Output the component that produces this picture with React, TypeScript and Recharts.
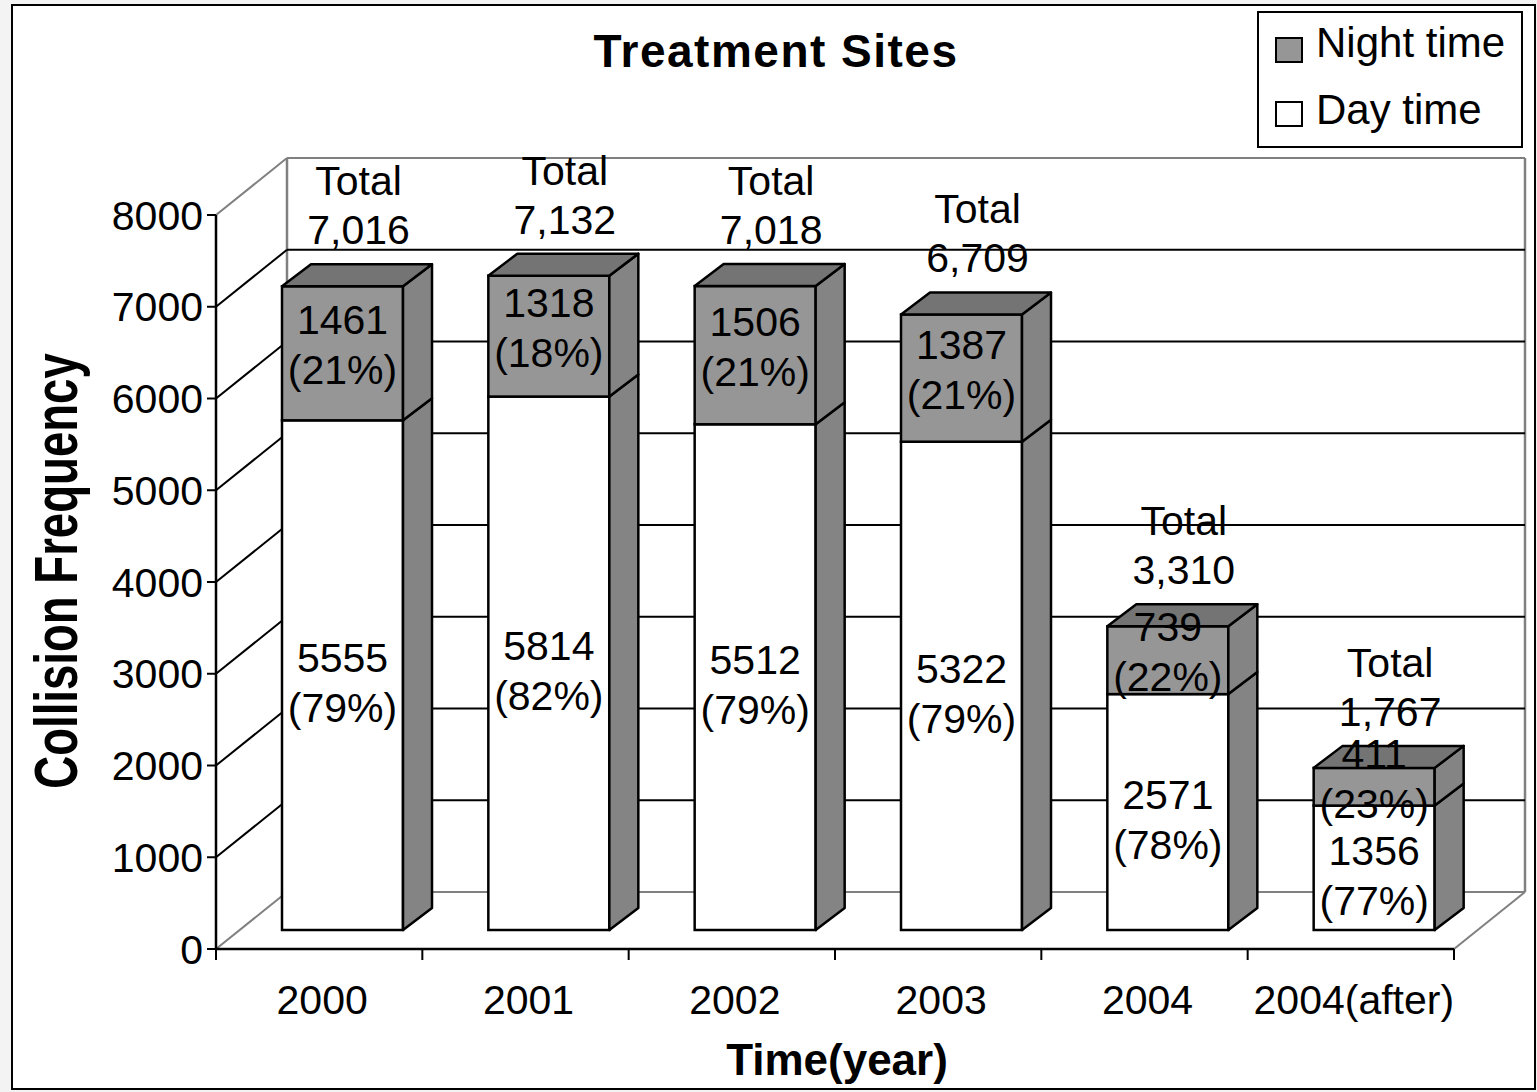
import React from 'react';
import { BarChart, Bar, XAxis, YAxis, CartesianGrid } from 'recharts';

// ---------- data ----------
const years = ['2000', '2001', '2002', '2003', '2004', '2004(after)'];
const dayTime = [5555, 5814, 5512, 5322, 2571, 1356];
const nightTime = [1461, 1318, 1506, 1387, 739, 411];
const dayPercent = ['79%', '82%', '79%', '79%', '78%', '77%'];
const nightPercent = ['21%', '18%', '21%', '21%', '22%', '23%'];
const totalLabels = ['7,016', '7,132', '7,018', '6,709', '3,310', '1,767'];
const yTicks = [0, 1000, 2000, 3000, 4000, 5000, 6000, 7000, 8000];
const seriesNames = ['Night time', 'Day time'];
const chartTitle = 'Treatment Sites';
const xTitle = 'Time(year)';
const yTitle = 'Collision Frequency';

const data = years.map((year, i) => ({ year, day: dayTime[i], night: nightTime[i] }));

// ---------- style ----------
const W = 1537;
const H = 1092;
const FONT = '"Liberation Sans", Arial, sans-serif';
const PLOT_LEFT = 216;
const PLOT_RIGHT = 1454;
const PLOT_TOP = 215;
const PLOT_BOTTOM = 949;
const Y_AXIS_W = 100;
const X_AXIS_H = 60;

const WALL_DX = 71;
const WALL_DY = 57;
const BAR_DX = 23;
const BAR_DY = 19;
const DEPTH_DX = 29;
const DEPTH_DY = 22;
const TOTAL_LIFT = 34;

const NIGHT_FRONT = '#969696';
const NIGHT_TOP = '#747474';
const SIDE = '#848484';
const DAY_FRONT = '#ffffff';
const EDGE_GRAY = '#808080';
const FS = 41;

const renderGridLine = (p: any) => {
  const { x1, y1, x2, index } = p;
  const hasBox = typeof p.y === 'number' && typeof p.height === 'number';
  const top = hasBox ? p.y : NaN;
  const bottom = hasBox ? p.y + p.height : NaN;
  const isTop = hasBox && Math.abs(y1 - top) < 1;
  const isBottom = hasBox && Math.abs(y1 - bottom) < 1;
  const stroke = isTop || isBottom ? EDGE_GRAY : '#000';
  const bx = x1 + WALL_DX;
  const by = y1 - WALL_DY;
  const bxr = x2 + WALL_DX;
  return (
    <g key={`grid-${index}`}>
      <line x1={x1} y1={y1} x2={bx} y2={by} stroke={stroke} strokeWidth={2} />
      <line x1={bx} y1={by} x2={bxr} y2={by} stroke={stroke} strokeWidth={2} />
      {isBottom && (
        <g>
          <line x1={x2} y1={y1} x2={bxr} y2={by} stroke={EDGE_GRAY} strokeWidth={2} />
          <line x1={bx} y1={top - WALL_DY} x2={bx} y2={by} stroke={EDGE_GRAY} strokeWidth={2.5} />
          <line x1={bxr} y1={top - WALL_DY} x2={bxr} y2={by} stroke={EDGE_GRAY} strokeWidth={2.5} />
        </g>
      )}
    </g>
  );
};

const textProps = {
  textAnchor: 'middle' as const,
  dominantBaseline: 'central' as const,
  fontSize: FS,
  fontFamily: FONT,
  fill: '#000',
};

const makeShape = (isTop: boolean, front: string, values: number[], pct: string[]) => (p: any) => {
  const { x, y, width, height, index } = p;
  if (x == null || y == null || !width || height == null) return <g />;
  const fx = x + BAR_DX;
  const fy = y - BAR_DY;
  const cx = fx + width / 2;
  const cy = fy + height / 2 + (isTop ? -8 : 8);
  const side = [
    [fx + width, fy],
    [fx + width + DEPTH_DX, fy - DEPTH_DY],
    [fx + width + DEPTH_DX, fy + height - DEPTH_DY],
    [fx + width, fy + height],
  ]
    .map((pt) => pt.join(','))
    .join(' ');
  const topFace = [
    [fx, fy],
    [fx + DEPTH_DX, fy - DEPTH_DY],
    [fx + width + DEPTH_DX, fy - DEPTH_DY],
    [fx + width, fy],
  ]
    .map((pt) => pt.join(','))
    .join(' ');
  const backTop = fy - DEPTH_DY;
  const tx = cx + 16;
  return (
    <g>
      {isTop && (
        <g>
          <text {...textProps} x={tx} y={backTop - TOTAL_LIFT - 49}>Total</text>
          <text {...textProps} x={tx} y={backTop - TOTAL_LIFT}>{totalLabels[index]}</text>
        </g>
      )}
      <rect x={fx} y={fy} width={width} height={height} fill={front} stroke="#000" strokeWidth={2.5} />
      <polygon points={side} fill={SIDE} stroke="#000" strokeWidth={2.5} strokeLinejoin="round" />
      {isTop && <polygon points={topFace} fill={NIGHT_TOP} stroke="#000" strokeWidth={2.5} strokeLinejoin="round" />}
      <text {...textProps} x={cx} y={cy - 25}>{values[index]}</text>
      <text {...textProps} x={cx} y={cy + 25}>({pct[index]})</text>
    </g>
  );
};

const dayShape = makeShape(false, DAY_FRONT, dayTime, dayPercent);
const nightShape = makeShape(true, NIGHT_FRONT, nightTime, nightPercent);

const XTick = (p: any) => {
  const { x, y, payload } = p;
  const idx = typeof p.index === 'number' ? p.index : payload?.index;
  const half =
    payload && typeof payload.offset === 'number' && payload.offset > 0
      ? payload.offset
      : (PLOT_RIGHT - PLOT_LEFT) / years.length / 2;
  return (
    <g>
      <line x1={x - half} y1={y} x2={x - half} y2={y + 11} stroke="#000" strokeWidth={2} />
      {idx === years.length - 1 && (
        <line x1={x + half} y1={y} x2={x + half} y2={y + 11} stroke="#000" strokeWidth={2} />
      )}
      <text x={x + 3} y={y + 65} textAnchor="middle" fontSize={FS} fontFamily={FONT} fill="#000">
        {payload?.value}
      </text>
    </g>
  );
};

export default function App() {
  return (
    <div style={{ position: 'absolute', left: 0, top: 0, width: W, height: H, background: '#f3f3f3', fontFamily: FONT, overflow: 'hidden' }}>
      <div
        style={{
          position: 'absolute',
          left: 11,
          top: 4,
          width: 1525,
          height: 1086,
          border: '2px solid #000',
          background: '#fff',
          boxSizing: 'border-box',
        }}
      />
      <div style={{ position: 'absolute', left: 0, top: 0 }}>
        <BarChart
          width={W}
          height={H}
          data={data}
          margin={{ top: PLOT_TOP, right: W - PLOT_RIGHT, bottom: H - PLOT_BOTTOM - X_AXIS_H, left: PLOT_LEFT - Y_AXIS_W }}
          barSize={121}
          barCategoryGap={0}
        >
          <CartesianGrid horizontal={renderGridLine} vertical={false} />
          <XAxis
            dataKey="year"
            height={X_AXIS_H}
            interval={0}
            tickLine={false}
            tickSize={0}
            tickMargin={0}
            axisLine={{ stroke: '#000', strokeWidth: 2.5 }}
            tick={<XTick />}
          />
          <YAxis
            domain={[0, 8000]}
            ticks={yTicks}
            interval={0}
            width={Y_AXIS_W}
            tickSize={9}
            tickMargin={4}
            tick={{ fontSize: FS, fill: '#000', fontFamily: FONT }}
            tickLine={{ stroke: '#000', strokeWidth: 2 }}
            axisLine={{ stroke: '#000', strokeWidth: 2.5 }}
          />
          <Bar dataKey="day" name={seriesNames[1]} stackId="a" fill={DAY_FRONT} shape={dayShape} isAnimationActive={false} />
          <Bar dataKey="night" name={seriesNames[0]} stackId="a" fill={NIGHT_FRONT} shape={nightShape} isAnimationActive={false} />
        </BarChart>
      </div>

      {/* title */}
      <div style={{ position: 'absolute', left: 276, top: 28, width: 1000, textAlign: 'center', fontSize: 46, lineHeight: '46px', fontWeight: 700, letterSpacing: 1.5, whiteSpace: 'nowrap' }}>
        {chartTitle}
      </div>
      {/* x title */}
      <div style={{ position: 'absolute', left: 337, top: 1038, width: 1000, textAlign: 'center', fontSize: 44, lineHeight: '44px', fontWeight: 700, whiteSpace: 'nowrap' }}>
        {xTitle}
      </div>
      {/* y title */}
      <div
        style={{
          position: 'absolute',
          left: 56 - 300,
          top: 571 - 31,
          width: 600,
          height: 62,
          lineHeight: '62px',
          textAlign: 'center',
          fontSize: 62,
          fontWeight: 700,
          whiteSpace: 'nowrap',
          transform: 'rotate(-90deg) scaleX(0.735)',
        }}
      >
        {yTitle}
      </div>
      {/* legend */}
      <div
        style={{
          position: 'absolute',
          left: 1257,
          top: 11,
          width: 266,
          height: 137,
          border: '2px solid #000',
          background: '#fff',
          boxSizing: 'border-box',
        }}
      />
      {[
        { name: seriesNames[0], color: NIGHT_FRONT, swTop: 37, txtTop: 22 },
        { name: seriesNames[1], color: DAY_FRONT, swTop: 101, txtTop: 89 },
      ].map((it) => (
        <React.Fragment key={it.name}>
          <div style={{ position: 'absolute', left: 1275, top: it.swTop, width: 28, height: 26, background: it.color, border: '2px solid #000', boxSizing: 'border-box' }} />
          <div style={{ position: 'absolute', left: 1316, top: it.txtTop, fontSize: 42, lineHeight: '42px', whiteSpace: 'nowrap' }}>{it.name}</div>
        </React.Fragment>
      ))}
    </div>
  );
}
